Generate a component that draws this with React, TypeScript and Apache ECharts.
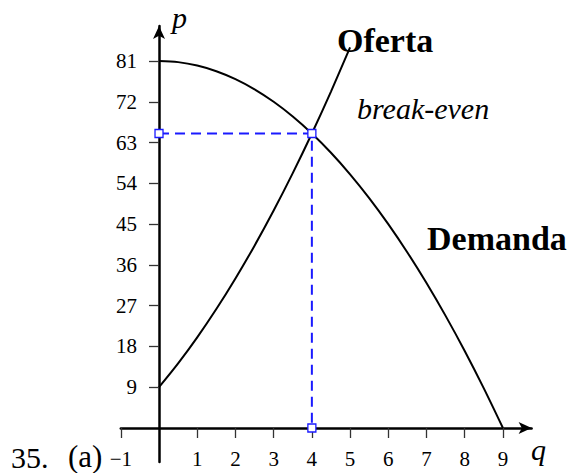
import React, { useEffect, useRef } from "react";
import * as echarts from "echarts";

// Demand curve (q, p)
const demandQ = [0, 0.5, 1, 1.5, 2, 2.5, 3, 3.5, 4, 4.5, 5, 5.5, 6, 6.5, 7, 7.5, 8, 8.5, 9];
const demandP = [81, 80.75, 80, 78.75, 77, 74.75, 72, 68.75, 65, 60.75, 56, 50.75, 45, 38.75, 32, 24.75, 17, 8.75, 0];
// Supply curve (q, p)
const supplyQ = [0, 0.5, 1, 1.5, 2, 2.5, 3, 3.5, 4, 4.5, 5];
const supplyP = [9, 14.25, 20, 26.25, 33, 40.25, 48, 56.25, 65, 74.25, 84];
// Break-even guide (dashed)
const guideQ = [0, 4, 4];
const guideP = [65, 65, 0];
// Tick values
const xTicks = [-1, 1, 2, 3, 4, 5, 6, 7, 8, 9];
const yTicks = [9, 18, 27, 36, 45, 54, 63, 72, 81];

const FONT = "Liberation Serif";
const TICK_FONT = 21;

export default function App() {
  const ref = useRef<HTMLDivElement>(null);
  useEffect(() => {
    document.body.style.margin = "0";
    const chart = echarts.init(ref.current!, undefined, { renderer: "svg" });
    const zip = (a: number[], b: number[]) => a.map((v, i) => [v, b[i]]);
    const txt = (
      text: string,
      left: number,
      top: number,
      size: number,
      weight: string,
      style: string
    ) => ({
      type: "text",
      left,
      top,
      style: {
        text,
        fontFamily: FONT,
        fontSize: size,
        fontWeight: weight,
        fontStyle: style,
        fill: "#000",
      },
    });
    chart.setOption({
      animation: false,
      backgroundColor: "#fff",
      grid: {
        left: 120.8,
        top: 26.1,
        width: 410.8,
        height: 435.9,
        containLabel: false,
        outerBoundsMode: "none",
      },
      xAxis: {
        type: "value",
        min: -1,
        max: 9.75,
        splitLine: { show: false },
        axisLine: {
          onZero: true,
          symbol: ["none", "arrow"],
          symbolSize: [9, 13],
          lineStyle: { color: "#000", width: 2.5 },
        },
        axisTick: {
          customValues: xTicks,
          length: 10,
          lineStyle: { color: "#333", width: 1.3 },
        },
        axisLabel: { show: false },
      },
      yAxis: {
        type: "value",
        min: -7.5,
        max: 88.7,
        splitLine: { show: false },
        axisLine: {
          onZero: true,
          symbol: ["none", "arrow"],
          symbolSize: [9, 13],
          lineStyle: { color: "#000", width: 2.5 },
        },
        axisTick: {
          customValues: yTicks,
          length: 10,
          lineStyle: { color: "#333", width: 1.3 },
        },
        axisLabel: { show: false },
      },
      series: [
        {
          type: "line",
          data: zip(demandQ, demandP),
          smooth: 0.3,
          showSymbol: false,
          lineStyle: { color: "#000", width: 2 },
          z: 3,
        },
        {
          type: "line",
          data: zip(supplyQ, supplyP),
          smooth: 0.3,
          showSymbol: false,
          lineStyle: { color: "#000", width: 2 },
          z: 3,
        },
        {
          type: "line",
          data: zip(guideQ, guideP),
          showSymbol: true,
          symbol: "rect",
          symbolSize: 8,
          itemStyle: { color: "#fff", borderColor: "#1a1aff", borderWidth: 1.3 },
          lineStyle: { color: "#1a1aff", width: 2, type: [10, 6] },
          z: 5,
        },
        {
          // x tick labels
          type: "custom",
          silent: true,
          data: xTicks.map((v) => [v, 0]),
          renderItem: (params: any, api: any) => {
            const v = api.value(0);
            const pt = api.coord([v, 0]);
            return {
              type: "text",
              x: pt[0],
              y: pt[1] + 20,
              style: {
                text: v < 0 ? "\u2212" + Math.abs(v) : String(v),
                fontFamily: FONT,
                fontSize: TICK_FONT,
                fill: "#000",
                align: "center",
                verticalAlign: "top",
              },
            };
          },
        },
        {
          // y tick labels
          type: "custom",
          silent: true,
          data: yTicks.map((v) => [0, v]),
          renderItem: (params: any, api: any) => {
            const v = api.value(1);
            const pt = api.coord([0, v]);
            return {
              type: "text",
              x: pt[0] - 22,
              y: pt[1],
              style: {
                text: String(v),
                fontFamily: FONT,
                fontSize: TICK_FONT,
                fill: "#000",
                align: "right",
                verticalAlign: "middle",
              },
            };
          },
        },
      ],
      graphic: [
        txt("Oferta", 337, 23, 34, "bold", "normal"),
        txt("break-even", 357, 93, 30, "normal", "italic"),
        txt("Demanda", 427, 221, 34, "bold", "normal"),
        txt("p", 172, 2, 30, "normal", "italic"),
        txt("q", 531, 434, 30, "normal", "italic"),
        txt("35.", 11, 442, 30, "normal", "normal"),
        txt("(a)", 68, 441, 31, "normal", "normal"),
      ],
    });
    return () => chart.dispose();
  }, []);
  return <div ref={ref} style={{ width: 576, height: 473 }} />;
}
